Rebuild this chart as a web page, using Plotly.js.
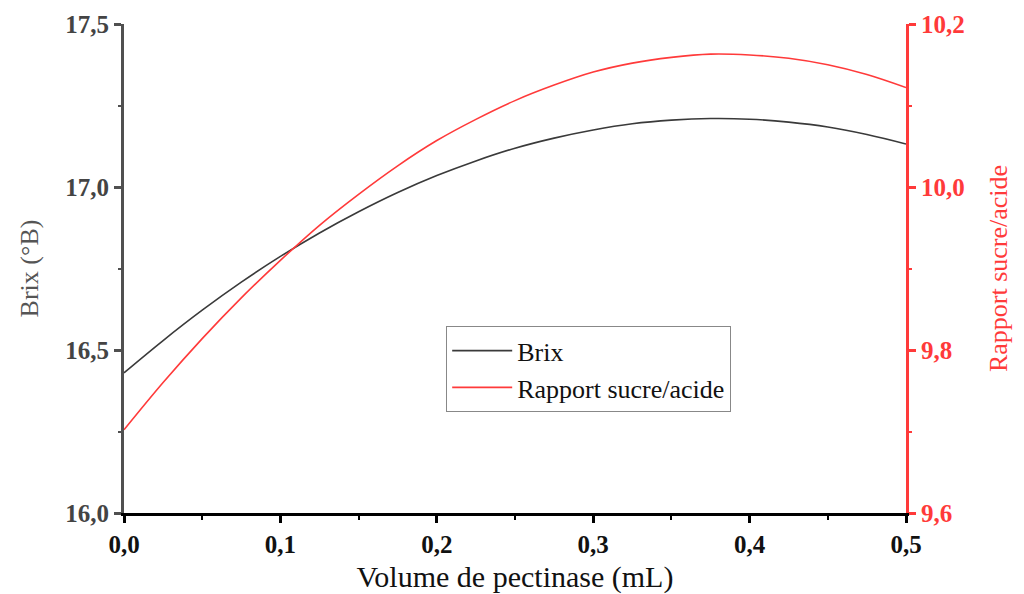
<!DOCTYPE html>
<html>
<head>
<meta charset="utf-8">
<script src="https://cdn.plot.ly/plotly-3.0.1.min.js"></script>
<style>html,body{margin:0;padding:0;background:#fff;}#chart{width:1024px;height:594px;}</style>
</head>
<body>
<div id="chart"></div>
<script>
const volume = [0, 0.025, 0.05, 0.075, 0.1, 0.125, 0.15, 0.175, 0.2, 0.225, 0.25, 0.275, 0.3, 0.325, 0.35, 0.375, 0.4, 0.425, 0.45, 0.475, 0.5];
const brix = [16.430, 16.529, 16.622, 16.708, 16.787, 16.859, 16.924, 16.983, 17.035, 17.080, 17.119, 17.150, 17.175, 17.194, 17.205, 17.210, 17.208, 17.199, 17.184, 17.161, 17.132];
const rapport = [9.702, 9.760, 9.814, 9.864, 9.910, 9.953, 9.991, 10.026, 10.057, 10.083, 10.106, 10.125, 10.141, 10.152, 10.159, 10.163, 10.162, 10.158, 10.150, 10.138, 10.122];
const seriesNames = ["Brix", "Rapport sucre/acide"];
const xTitle = "Volume de pectinase (mL)";
const yTitle = "Brix (°B)";
const y2Title = "Rapport sucre/acide";

const serif = "Liberation Serif, Times New Roman, serif";
const red = "#ff3a3a";
const grey = "#505050";

const traces = [
  {x: volume, y: brix, name: seriesNames[0], type: "scatter", mode: "lines",
   line: {color: "#3a3a3a", width: 1.6, shape: "spline"}, yaxis: "y"},
  {x: volume, y: rapport, name: seriesNames[1], type: "scatter", mode: "lines",
   line: {color: red, width: 1.6, shape: "spline"}, yaxis: "y2"}
];

const layout = {
  width: 1024, height: 594,
  margin: {l: 124, r: 118, t: 24, b: 81, pad: 0},
  paper_bgcolor: "#fff", plot_bgcolor: "#fff",
  separators: ", ",
  showlegend: true,
  legend: {x: 0.412, y: 0.382, xanchor: "left", yanchor: "top",
    bordercolor: "#888", borderwidth: 1, bgcolor: "rgba(255,255,255,0)",
    font: {family: serif, size: 26, color: "#111"}, tracegroupgap: 0, itemwidth: 60},
  xaxis: {
    range: [0, 0.5], dtick: 0.1, tick0: 0, tickformat: ".1f",
    showgrid: false, zeroline: false, showline: true, linecolor: "#000", linewidth: 3,
    ticks: "outside", ticklen: 7, tickwidth: 3, tickcolor: "#000",
    minor: {dtick: 0.05, ticks: "outside", ticklen: 4, tickwidth: 2, tickcolor: "#000", showgrid: false},
    tickfont: {family: serif, size: 25, color: "#111", weight: "bold"},
    title: {text: xTitle, font: {family: serif, size: 30, color: "#111"}, standoff: 10}
  },
  yaxis: {
    range: [16, 17.5], dtick: 0.5, tick0: 16, tickformat: ".1f",
    showgrid: false, zeroline: false, showline: true, linecolor: grey, linewidth: 3,
    ticks: "outside", ticklen: 7, tickwidth: 3, tickcolor: grey,
    minor: {dtick: 0.25, ticks: "outside", ticklen: 3, tickwidth: 2, tickcolor: grey, showgrid: false},
    tickfont: {family: serif, size: 25, color: "#444", weight: "bold"},
    title: {text: yTitle, font: {family: serif, size: 26, color: "#555"}, standoff: 20}
  },
  yaxis2: {
    overlaying: "y", side: "right", anchor: "x",
    range: [9.6, 10.2], dtick: 0.2, tick0: 9.6, tickformat: ".1f",
    showgrid: false, zeroline: false, showline: true, linecolor: red, linewidth: 3,
    ticks: "outside", ticklen: 7, tickwidth: 3, tickcolor: red,
    minor: {dtick: 0.1, ticks: "outside", ticklen: 3, tickwidth: 2, tickcolor: red, showgrid: false},
    tickfont: {family: serif, size: 25, color: red, weight: "bold"},
    title: {text: y2Title, font: {family: serif, size: 26, color: red}, standoff: 26}
  }
};

Plotly.newPlot("chart", traces, layout, {staticPlot: true, displayModeBar: false});
</script>
</body>
</html>
